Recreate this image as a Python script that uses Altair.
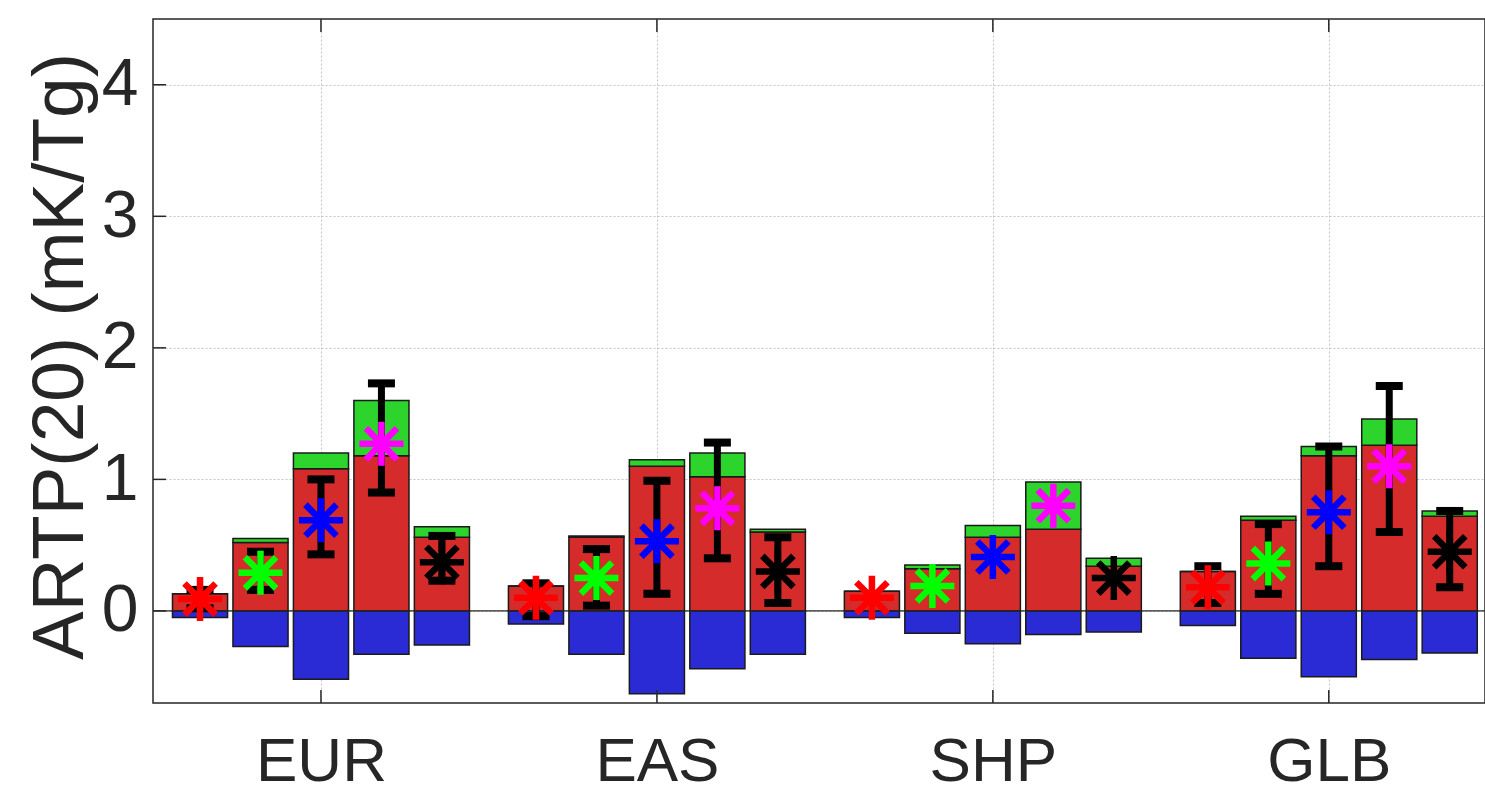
import altair as alt
import pandas as pd

# ---------------- data ----------------
regions = ["EUR", "EAS", "SHP", "GLB"]
series = ["s1", "s2", "s3", "s4", "s5"]
marker_colors = ["#FF0000", "#00FF00", "#0000FF", "#FF00FF", "#000000"]

# positive (red) part of each bar, per region
red_part = [
    [0.13, 0.52, 1.08, 1.18, 0.56],   # EUR
    [0.19, 0.56, 1.10, 1.02, 0.60],   # EAS
    [0.15, 0.32, 0.56, 0.62, 0.34],   # SHP
    [0.30, 0.69, 1.18, 1.26, 0.72],   # GLB
]
# green part stacked on top of the red part
green_part = [
    [0.00, 0.03, 0.12, 0.42, 0.08],
    [0.00, 0.01, 0.05, 0.18, 0.02],
    [0.00, 0.03, 0.09, 0.36, 0.06],
    [0.00, 0.03, 0.07, 0.20, 0.04],
]
# negative (blue) part
blue_part = [
    [-0.05, -0.27, -0.52, -0.33, -0.26],
    [-0.10, -0.33, -0.63, -0.44, -0.33],
    [-0.05, -0.17, -0.25, -0.18, -0.16],
    [-0.11, -0.36, -0.50, -0.37, -0.32],
]
# net value (asterisk)
net_value = [
    [0.09, 0.29, 0.69, 1.27, 0.37],
    [0.10, 0.25, 0.53, 0.78, 0.30],
    [0.10, 0.19, 0.41, 0.80, 0.25],
    [0.18, 0.36, 0.75, 1.10, 0.45],
]
# error bar ranges (None = no error bar)
err_low = [
    [0.02, 0.16, 0.43, 0.90, 0.23],
    [-0.04, 0.04, 0.13, 0.40, 0.06],
    None,
    [0.06, 0.13, 0.34, 0.60, 0.18],
]
err_high = [
    [0.16, 0.45, 1.00, 1.73, 0.57],
    [0.21, 0.47, 0.99, 1.28, 0.56],
    None,
    [0.34, 0.66, 1.25, 1.71, 0.76],
]
y_ticks = [0, 1, 2, 3, 4]

# ---------------- layout ----------------
W, H = 1332, 684
FONT = "Liberation Sans"
STEP = 0.18          # spacing of bars within a group (x units)
HALF = 0.082         # half bar width (x units)
BAR_COLORS = {"red": "#D62B2B", "green": "#2CD42C", "blue": "#2B2BD6"}

bar_rows, pt_rows, err_rows, cap_rows = [], [], [], []
for i, reg in enumerate(regions):
    for j, s in enumerate(series):
        c = (i + 1) + (j - 2) * STEP
        r, g, b = red_part[i][j], green_part[i][j], blue_part[i][j]
        bar_rows.append(dict(part="red", x0=c - HALF, x1=c + HALF, y0=0, y1=r))
        bar_rows.append(dict(part="green", x0=c - HALF, x1=c + HALF, y0=r, y1=r + g))
        bar_rows.append(dict(part="blue", x0=c - HALF, x1=c + HALF, y0=b, y1=0))
        pt_rows.append(dict(series=s, x=c, y=net_value[i][j]))
        if err_low[i] is not None:
            lo, hi = err_low[i][j], err_high[i][j]
            err_rows.append(dict(x=c, lo=lo, hi=hi))
            cap_rows.append(dict(x=c, y=lo))
            cap_rows.append(dict(x=c, y=hi))

df_bars = pd.DataFrame(bar_rows)
df_pts = pd.DataFrame(pt_rows)
df_err = pd.DataFrame(err_rows)
df_caps = pd.DataFrame(cap_rows)
df_zero = pd.DataFrame({"y": [0]})
df_yt = pd.DataFrame({"t": y_ticks})
df_xt = pd.DataFrame({"c": list(range(1, len(regions) + 1))})

xscale = alt.Scale(domain=[0.5, 4.465], nice=False, zero=False)
yscale = alt.Scale(domain=[-0.7, 4.5], nice=False, zero=False)

label_expr = "[" + ",".join(f"'{r}'" for r in regions) + "][datum.value - 1]"
grid_kw = dict(grid=True, gridColor="#c4c4c4", gridDash=[2, 2], gridWidth=1,
               ticks=False, domain=False, labelColor="#262626", labelFont=FONT)
xaxis = alt.Axis(values=list(range(1, len(regions) + 1)), labelExpr=label_expr,
                 title=None, labelFontSize=62, labelBaseline="alphabetic",
                 labelPadding=77, **grid_kw)
yaxis = alt.Axis(values=y_ticks, title="ARTP(20) (mK/Tg)", labelFontSize=66,
                 labelPadding=15, titleFontSize=73, titleFont=FONT,
                 titleFontWeight="normal", titleColor="#262626",
                 titleX=-71, titleY=H / 2 - 5, titleAngle=270,
                 titleBaseline="alphabetic", titleAlign="center", **grid_kw)

X = lambda f: alt.X(f, scale=xscale, axis=xaxis)
Y = lambda f: alt.Y(f, scale=yscale, axis=yaxis)

bars = alt.Chart(df_bars).mark_bar(stroke="#1a1a1a", strokeWidth=1.5, cornerRadius=0).encode(
    x=X("x0:Q"), x2="x1:Q", y=Y("y0:Q"), y2="y1:Q",
    color=alt.Color("part:N", scale=alt.Scale(domain=list(BAR_COLORS.keys()),
                                              range=list(BAR_COLORS.values())), legend=None),
)

zero = alt.Chart(df_zero).mark_rule(color="#262626", strokeWidth=1.3).encode(
    y=Y("y:Q"), x=alt.value(0), x2=alt.value(W))

err = alt.Chart(df_err).mark_rule(color="black", strokeWidth=7).encode(
    x=X("x:Q"), y=Y("lo:Q"), y2="hi:Q")

caps = alt.Chart(df_caps).mark_tick(color="black", orient="horizontal", size=27,
                                    thickness=8, opacity=1).encode(
    x=X("x:Q"), y=Y("y:Q"))

ASTERISK = "M-1,0L1,0M0,-1L0,1M-0.707,-0.707L0.707,0.707M-0.707,0.707L0.707,-0.707"
pts = alt.Chart(df_pts).mark_point(shape=ASTERISK, size=1936, filled=False,
                                   strokeWidth=6.5, opacity=1, strokeCap="butt").encode(
    x=X("x:Q"), y=Y("y:Q"),
    stroke=alt.Stroke("series:N", scale=alt.Scale(domain=series, range=marker_colors),
                      legend=None),
)

left_ticks = alt.Chart(df_yt).mark_rule(color="#262626", strokeWidth=1.5).encode(
    y=Y("t:Q"), x=alt.value(0), x2=alt.value(13))
bottom_ticks = alt.Chart(df_xt).mark_rule(color="#262626", strokeWidth=1.5).encode(
    x=X("c:Q"), y=alt.value(H), y2=alt.value(H - 13))
top_ticks = alt.Chart(df_xt).mark_rule(color="#262626", strokeWidth=1.5).encode(
    x=X("c:Q"), y=alt.value(0), y2=alt.value(13))

chart = alt.layer(bars, zero, err, caps, pts, left_ticks, bottom_ticks, top_ticks).properties(
    width=W, height=H,
    autosize=alt.AutoSizeParams(type="none"),
    padding={"left": 153, "top": 19, "right": 0, "bottom": 90},
    background="white",
).configure_view(stroke="#262626", strokeWidth=1.5)

chart.save("out.html", embed_options={"renderer": "svg", "actions": False})
